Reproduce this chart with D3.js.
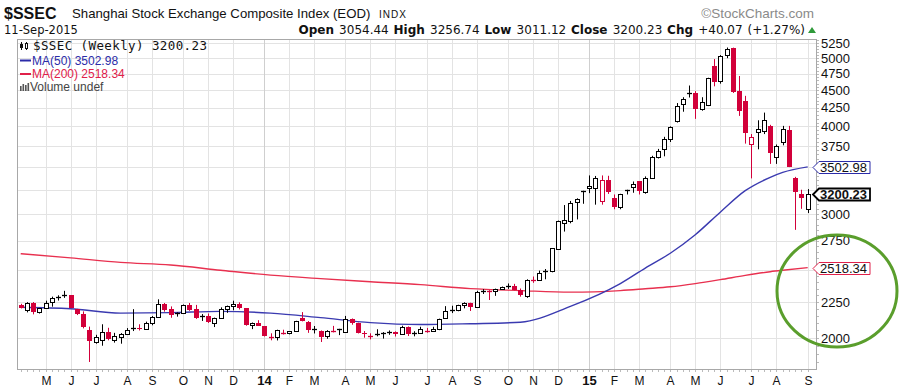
<!DOCTYPE html>
<html lang="en">
<head>
<meta charset="utf-8">
<title>$SSEC Weekly</title>
<script src="https://cdn.jsdelivr.net/npm/d3@7"></script>
<style>
  body { margin: 0; background: #fff; }
  text { font-family: "Liberation Sans", Arial, sans-serif; }
  .verd { font-family: "DejaVu Sans", Verdana, sans-serif; }
  .mono { font-family: "DejaVu Sans Mono", monospace; }
</style>
</head>
<body>
<div id="chart"></div>
<script>
// ---- data (weekly bars) ----
var firstWeek = "2013-04-08";   // Monday of the first bar
var prevClose0 = 2225;

var opens = [2225,2195,2245,2176,2209,2247,2283,2290,2300,2196,2160,2050,1976,1990,2042,1990,2007,2029,2062,2068,
  2057,2098,2139,2236,2200,2168,2174,2228,2196,2145,2149,2100,2137,2197,2220,2238,2203,2085,2101,2079,
  2013,2004,2040,2033,2047,2135,2109,2060,2045,2010,2051,2050,2040,2129,2098,2036,2020,2022,2027,2035,
  2039,2028,2070,2032,2036,2052,2047,2058,2136,2190,2194,2226,2240,2217,2326,2331,2329,2347,2370,2374,
  2341,2297,2419,2419,2476,2490,2680,2915,2931,3122,3230,3265,3265,3130,3357,3160,3070,3236,3275,3340,
  3222,3381,3620,3710,3840,4070,4310,4455,4460,4240,4290,4880,4640,5050,5175,4490,4340,3780,3925,3940,
  4000,3620,3800,3955,3380,3210,3054.44];
var highs = [2237,2249,2250,2207,2260,2290,2300,2334,2302,2200,2182,2076,2021,2092,2068,2034,2032,2066,2198,2092,
  2110,2149,2270,2243,2218,2175,2232,2243,2229,2163,2167,2138,2211,2224,2260,2248,2206,2104,2120,2079,
  2031,2055,2055,2046,2116,2177,2114,2080,2050,2052,2081,2061,2150,2132,2103,2046,2031,2058,2039,2050,
  2044,2082,2077,2045,2075,2067,2075,2131,2220,2223,2230,2248,2245,2334,2347,2339,2351,2367,2391,2388,
  2352,2424,2446,2494,2507,2683,2938,3091,3133,3160,3239,3406,3400,3406,3402,3200,3207,3250,3339,3344,
  3395,3632,3715,3865,4000,4317,4400,4572,4489,4400,4690,4986,5051,5178,5176,4717,4420,3900,4080,4184,
  4020,3769,4006,4006,3390,3250,3256.74];
var lows = [2203,2175,2161,2167,2203,2216,2261,2281,2205,2156,2064,1849,1963,1950,1985,1970,1963,2026,2046,2050,
  2055,2085,2139,2180,2137,2145,2173,2186,2129,2115,2101,2073,2137,2172,2190,2196,2082,2059,2080,2010,
  1985,1984,2023,2024,2047,2112,2034,2030,1974,1995,2037,2019,2051,2089,2030,2002,1991,2011,1996,2021,
  2010,2025,2013,2011,2032,2035,2040,2052,2130,2170,2183,2204,2185,2215,2310,2265,2296,2346,2349,2339,
  2290,2281,2396,2411,2424,2480,2669,2834,2912,2949,3104,3214,3095,3095,3206,3049,3049,3200,3218,3200,
  3208,3380,3600,3626,3800,4050,4196,4396,4099,4210,4274,4560,4600,5000,4462,4139,3780,3373,3710,3900,
  3537,3537,3759,3500,2850,3053,3011.12];
var closes = [2206,2244,2177,2205,2246,2282,2288,2300,2210,2162,2073,1979,2007,2039,1992,2010,2029,2052,2068,2057,
  2098,2139,2236,2192,2155,2174,2228,2193,2133,2149,2106,2136,2197,2220,2238,2205,2085,2101,2083,2013,
  2004,2054,2033,2044,2115,2113,2056,2057,2004,2047,2046,2058,2130,2098,2036,2026,2011,2026,2035,2039,
  2029,2070,2024,2036,2059,2047,2059,2126,2182,2194,2226,2240,2217,2326,2331,2329,2347,2364,2374,2341,
  2302,2420,2418,2478,2487,2683,2938,2940,3108,3157,3234,3285,3376,3351,3222,3075,3203,3246,3310,3241,
  3372,3617,3691,3840,3990,4280,4380,4460,4230,4330,4690,4630,5040,5160,4478,4200,3914,3860,3970,4085,
  3660,3750,3970,3500,3225,3160.16,3200.23];

// moving averages, sampled every few weeks (bar index -> value)
var maIndex = [0, 8, 16, 24, 32, 40, 48, 56, 64, 72, 80, 88, 96, 100, 104, 108, 112, 116, 120, 122, 126];
var ma50 = [2212, 2201, 2170, 2173, 2182, 2170, 2138, 2103, 2090, 2096, 2106, 2218, 2390, 2515, 2640, 2805, 3020, 3240, 3385, 3440, 3502.98];
var ma200 = [2636, 2600, 2562, 2540, 2497, 2457, 2429, 2405, 2382, 2351, 2336, 2324, 2336, 2350, 2365, 2390, 2421, 2455, 2485, 2497, 2518.34];

var yTicks = [2000, 2250, 2500, 2750, 3000, 3250, 3500, 3750, 4000, 4250, 4500, 4750, 5000, 5250];
var monthLabels = ["M","J","J","A","S","O","N","D","14","F","M","A","M","J","J","A","S","O","N","D",
  "15","F","M","A","M","J","J","A","S"];

// ---- layout ----
var W = 909, H = 391;
var plot = {left: 17, right: 816, top: 39, bottom: 369};
var upCol = "#000", dnCol = "#d2003a";

var svg = d3.select("#chart").append("svg")
  .attr("width", W).attr("height", H)
  .style("display", "block");

svg.append("rect").attr("width", W).attr("height", H).attr("fill", "#fff");

var parse = d3.utcParse("%Y-%m-%d");
var week0 = parse(firstWeek);
var weeks = d3.utcMonday.range(week0, d3.utcDay.offset(week0, 7 * closes.length));

var bars = closes.map(function(c, i) {
  return {date: weeks[i], o: opens[i], h: highs[i], l: lows[i], c: c,
          pc: i === 0 ? prevClose0 : closes[i - 1]};
});

var x = d3.scaleUtc()
  .domain([weeks[0], weeks[weeks.length - 1]])
  .range([20.7, 807.7]);

var y = d3.scaleLog()
  .domain([2000, 5250])
  .range([338, 43.3]);

// first bar of each month gets a grid line
var monthWeeks = weeks.filter(function(d, i) {
  return i > 0 && d.getUTCMonth() !== weeks[i - 1].getUTCMonth();
});

var grid = svg.append("g");
grid.selectAll("line.h").data(yTicks).join("line")
  .attr("x1", plot.left).attr("x2", plot.right)
  .attr("y1", function(d) { return Math.round(y(d)) + 0.5; })
  .attr("y2", function(d) { return Math.round(y(d)) + 0.5; })
  .attr("stroke", "#e3e3e3");
grid.selectAll("line.v").data(monthWeeks).join("line")
  .attr("x1", function(d) { return Math.round(x(d)) + 0.5; })
  .attr("x2", function(d) { return Math.round(x(d)) + 0.5; })
  .attr("y1", plot.top).attr("y2", plot.bottom)
  .attr("stroke", function(d) { return d.getUTCMonth() === 0 ? "#cfcfcf" : "#e3e3e3"; });

// weekly minor ticks under the frame
svg.append("g").selectAll("line").data(weeks).join("line")
  .attr("x1", function(d) { return Math.round(x(d)) + 0.5; })
  .attr("x2", function(d) { return Math.round(x(d)) + 0.5; })
  .attr("y1", plot.bottom).attr("y2", plot.bottom + 3)
  .attr("stroke", "#bbb");

// minor ticks on the price axis
svg.append("g").selectAll("line").data(d3.range(1850, 5350, 50)).join("line")
  .attr("x1", plot.right).attr("x2", plot.right + 3)
  .attr("y1", function(d) { return Math.round(y(d)) + 0.5; })
  .attr("y2", function(d) { return Math.round(y(d)) + 0.5; })
  .attr("stroke", "#bbb");

// frame
svg.append("rect")
  .attr("x", plot.left + 0.5).attr("y", plot.top + 0.5)
  .attr("width", plot.right - plot.left).attr("height", plot.bottom - plot.top)
  .attr("fill", "none").attr("stroke", "#a8a8a8");

svg.append("clipPath").attr("id", "clip").append("rect")
  .attr("x", plot.left).attr("y", plot.top)
  .attr("width", plot.right - plot.left).attr("height", plot.bottom - plot.top);

var pg = svg.append("g").attr("clip-path", "url(#clip)");

// moving averages
var maLine = d3.line()
  .x(function(d) { return x(weeks[d[0]]); })
  .y(function(d) { return y(d[1]); })
  .curve(d3.curveMonotoneX);

pg.append("path")
  .attr("d", maLine(maIndex.map(function(k, i) { return [k, ma200[i]]; })))
  .attr("fill", "none").attr("stroke", "#e8304f").attr("stroke-width", 1.4);
pg.append("path")
  .attr("d", maLine(maIndex.map(function(k, i) { return [k, ma50[i]]; })))
  .attr("fill", "none").attr("stroke", "#3a3ab0").attr("stroke-width", 1.4);

// candles
var cg = pg.append("g");
bars.forEach(function(d) {
  var cx = Math.round(x(d.date));
  var col = d.c < d.pc ? dnCol : upCol;
  var yo = y(d.o), yc = y(d.c);
  cg.append("line")
    .attr("x1", cx + 0.5).attr("x2", cx + 0.5)
    .attr("y1", y(d.h)).attr("y2", y(d.l))
    .attr("stroke", col);
  if (Math.abs(yo - yc) < 1.5) {
    cg.append("line")
      .attr("x1", cx - 2).attr("x2", cx + 3)
      .attr("y1", Math.round(yc) + 0.5).attr("y2", Math.round(yc) + 0.5)
      .attr("stroke", col).attr("stroke-width", 1.3);
  } else if (d.c > d.o) {
    cg.append("rect")
      .attr("x", cx - 1.5).attr("y", Math.round(yc) + 0.5)
      .attr("width", 4).attr("height", Math.max(1, Math.round(yo) - Math.round(yc)))
      .attr("fill", "#fff").attr("stroke", col);
  } else {
    cg.append("rect")
      .attr("x", cx - 2).attr("y", Math.round(yo))
      .attr("width", 5).attr("height", Math.max(1, Math.round(yc) - Math.round(yo)))
      .attr("fill", col);
  }
});

// last-value tags on the price axis
var last = bars[bars.length - 1];
var tags = [
  {v: ma50[ma50.length - 1], col: "#2b2ba8", bold: false},
  {v: last.c, col: "#000", bold: true},
  {v: ma200[ma200.length - 1], col: "#e0204a", bold: false}
];

// price axis labels (the ones hidden behind a tag are left out)
var shownTicks = yTicks.filter(function(t) {
  return tags.every(function(g) { return Math.abs(y(t) - y(g.v)) > 9; });
});
svg.append("g").selectAll("text").data(shownTicks).join("text")
  .attr("x", 821).attr("y", function(d) { return y(d) + 4.5; })
  .attr("font-size", 13).attr("fill", "#111")
  .text(function(d) { return d; });

// month labels
svg.append("g").selectAll("text").data(monthWeeks).join("text")
  .attr("x", function(d) { return Math.round(x(d)) + 0.5; })
  .attr("y", 385)
  .attr("text-anchor", "middle")
  .attr("font-size", function(d, i) { return monthLabels[i].length > 1 ? 13 : 12; })
  .attr("font-weight", function(d, i) { return monthLabels[i].length > 1 ? "bold" : "normal"; })
  .attr("fill", "#111")
  .text(function(d, i) { return monthLabels[i]; });

tags.forEach(function(t) {
  var ty = Math.round(y(t.v)) + 0.5;
  svg.append("path")
    .attr("d", "M813," + ty + "L819," + (ty - 6) + "L870," + (ty - 6) + "L870," + (ty + 6) + "L819," + (ty + 6) + "Z")
    .attr("fill", "#fff").attr("stroke", t.col).attr("stroke-width", t.bold ? 1.8 : 1);
  svg.append("text")
    .attr("x", 820).attr("y", ty + 4.5)
    .attr("font-size", 13).attr("font-weight", t.bold ? "bold" : "normal")
    .attr("fill", "#111")
    .text(d3.format(".2f")(t.v));
});

// header
svg.append("text").attr("x", 4).attr("y", 19)
  .attr("font-size", 16).attr("font-weight", "bold").attr("fill", "#111").text("$SSEC");
svg.append("text").attr("x", 72).attr("y", 18)
  .attr("font-size", 13.2).attr("fill", "#111").text("Shanghai Stock Exchange Composite Index (EOD)");
svg.append("text").attr("x", 379).attr("y", 18)
  .attr("font-size", 10).attr("letter-spacing", 1).attr("fill", "#111").text("INDX");
svg.append("text").attr("x", 814).attr("y", 18).attr("text-anchor", "end")
  .attr("font-size", 13.5).attr("fill", "#8a8a8a").text("\u00a9StockCharts.com");
svg.append("text").attr("class", "verd").attr("x", 4).attr("y", 34)
  .attr("font-size", 11.5).attr("fill", "#111").text("11-Sep-2015");

var chg = last.c - last.pc;
var ohlc = svg.append("text").attr("class", "verd")
  .attr("x", 805).attr("y", 34).attr("text-anchor", "end")
  .attr("font-size", 12).attr("fill", "#111").attr("word-spacing", 1);
[["Open", last.o], ["High", last.h], ["Low", last.l], ["Close", last.c]].forEach(function(p) {
  ohlc.append("tspan").attr("font-weight", "bold").text(p[0] + " ");
  ohlc.append("tspan").text(d3.format(".2f")(p[1]) + "  ");
});
ohlc.append("tspan").attr("font-weight", "bold").text("Chg ");
ohlc.append("tspan").text("+" + d3.format(".2f")(chg) + " (+" + d3.format(".2f")(chg / last.pc * 100) + "%)");
svg.append("path").attr("d", "M808,33L812,27L816,33Z").attr("fill", "#2f9a3a");

// legend inside the plot
var lg = svg.append("g");
lg.append("line").attr("x1", 21.5).attr("x2", 21.5).attr("y1", 42).attr("y2", 50).attr("stroke", "#111");
lg.append("rect").attr("x", 20).attr("y", 44).attr("width", 3).attr("height", 4).attr("fill", "#111");
lg.append("line").attr("x1", 26.5).attr("x2", 26.5).attr("y1", 42).attr("y2", 50).attr("stroke", "#111");
lg.append("rect").attr("x", 25.5).attr("y", 43.5).attr("width", 2).attr("height", 5).attr("fill", "#fff").attr("stroke", "#111");
lg.append("text").attr("class", "mono").attr("x", 33).attr("y", 50)
  .attr("font-size", 12.5).attr("letter-spacing", 0.4).attr("fill", "#111")
  .text("$SSEC (Weekly) " + d3.format(".2f")(last.c));
lg.append("line").attr("x1", 20).attr("x2", 31).attr("y1", 60.5).attr("y2", 60.5)
  .attr("stroke", "#2b2ba8").attr("stroke-width", 2);
lg.append("text").attr("x", 32).attr("y", 64.5).attr("font-size", 12).attr("fill", "#2b2ba8")
  .text("MA(50) " + d3.format(".2f")(ma50[ma50.length - 1]));
lg.append("line").attr("x1", 20).attr("x2", 31).attr("y1", 74).attr("y2", 74)
  .attr("stroke", "#e0204a").attr("stroke-width", 2);
lg.append("text").attr("x", 32).attr("y", 78).attr("font-size", 12).attr("fill", "#e0204a")
  .text("MA(200) " + d3.format(".2f")(ma200[ma200.length - 1]));
[[20, 86], [22.5, 84], [25, 85], [27.5, 83]].forEach(function(b) {
  lg.append("rect").attr("x", b[0]).attr("y", b[1]).attr("width", 1.6).attr("height", 91 - b[1]).attr("fill", "#555");
});
lg.append("text").attr("x", 30).attr("y", 91).attr("font-size", 12).attr("fill", "#444").text("Volume undef");

// hand drawn green circle
svg.append("ellipse")
  .attr("cx", 837).attr("cy", 291).attr("rx", 60).attr("ry", 56)
  .attr("fill", "none").attr("stroke", "#5a9e2c").attr("stroke-width", 3);
</script>
</body>
</html>
